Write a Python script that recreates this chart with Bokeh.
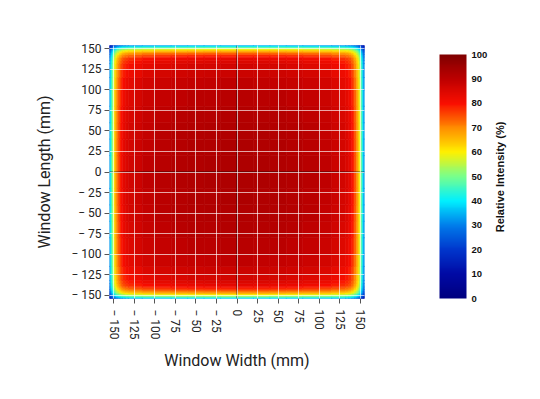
import math
from bokeh.plotting import figure
from bokeh.layouts import row
from bokeh.models import (ColumnDataSource, LinearColorMapper, ColorBar, FixedTicker, Span)
from bokeh.transform import transform
from bokeh.embed import file_html
from bokeh.resources import INLINE

# ---- data ----
# intensity profile from centre to edge (mm boundaries, relative factor per band)
profile_bounds = [0, 20, 40, 60, 80, 100, 115, 125, 132, 136, 139, 141, 143, 145,
                  147, 148.5, 150, 151.5, 152.8, 154, 156]
profile_values = [0.962, 0.960, 0.957, 0.952, 0.943, 0.930, 0.912, 0.898, 0.883, 0.865,
                  0.840, 0.810, 0.775, 0.730, 0.680, 0.620, 0.550, 0.480, 0.410, 0.340]
axis_ticks = [-150, -125, -100, -75, -50, -25, 0, 25, 50, 75, 100, 125, 150]
axis_tick_labels = ["\u2212 150", "\u2212 125", "\u2212 100", "\u2212 75", "\u2212 50", "\u2212 25",
                    "0", "25", "50", "75", "100", "125", "150"]
cbar_ticks = [0, 10, 20, 30, 40, 50, 60, 70, 80, 90, 100]

# colour map anchors (value, rgb)
cmap_anchors = [(0, (0, 0, 128)), (10, (0, 10, 165)), (20, (0, 55, 205)), (30, (0, 125, 235)),
                (40, (0, 240, 255)), (50, (120, 255, 140)), (60, (255, 240, 0)),
                (70, (255, 140, 0)), (80, (250, 15, 0)), (90, (190, 0, 0)), (100, (128, 0, 0))]

# ---- build palette ----
palette = []
for k in range(256):
    v = k / 255 * 100
    for (v0, c0), (v1, c1) in zip(cmap_anchors[:-1], cmap_anchors[1:]):
        if v0 <= v <= v1:
            t = (v - v0) / (v1 - v0)
            c = tuple(int(round(a + (b - a) * t)) for a, b in zip(c0, c1))
            palette.append("#%02x%02x%02x" % c)
            break
mapper = LinearColorMapper(palette=palette, low=0, high=100)

# ---- full-axis bands ----
full_bounds = [-b for b in reversed(profile_bounds)] + profile_bounds[1:]
full_values = list(reversed(profile_values)) + profile_values
centers = [(a + b) / 2 for a, b in zip(full_bounds[:-1], full_bounds[1:])]
widths = [b - a for a, b in zip(full_bounds[:-1], full_bounds[1:])]

xs, ys, ws, hs, vals = [], [], [], [], []
for cx, w, vx in zip(centers, widths, full_values):
    for cy, h, vy in zip(centers, widths, full_values):
        xs.append(cx); ys.append(cy); ws.append(w); hs.append(h)
        vals.append(100 * vx * vy)
src = ColumnDataSource(dict(x=xs, y=ys, w=ws, h=hs, val=vals))

p = figure(frame_width=255, frame_height=253, x_range=(-155, 155), y_range=(-154, 154),
           output_backend="svg", toolbar_location=None,
           min_border_left=109, min_border_right=0, min_border_top=45, min_border_bottom=85)
p.outline_line_color = None

p.rect(x="x", y="y", width="w", height="h", source=src,
       fill_color=transform("val", mapper), line_color=transform("val", mapper), line_width=0.6)

for ax in (p.xaxis[0], p.yaxis[0]):
    ax.ticker = FixedTicker(ticks=axis_ticks)
    ax.major_label_overrides = {t: l for t, l in zip(axis_ticks, axis_tick_labels)}
    ax.minor_tick_line_color = None
    ax.axis_line_color = None
    ax.major_tick_in = 0
    ax.major_tick_out = 5
    ax.major_tick_line_color = "#555555"
    ax.major_label_text_font = "Roboto"
    ax.major_label_text_font_size = "12px"
    ax.major_label_text_color = "#222222"
    ax.axis_label_text_font = "Roboto"
    ax.axis_label_text_font_size = "16px"
    ax.axis_label_text_font_style = "normal"
    ax.axis_label_text_color = "#222222"

p.xaxis.axis_label = "Window Width (mm)"
p.yaxis.axis_label = "Window Length (mm)"
p.xaxis.major_label_orientation = -math.pi / 2
p.xaxis.major_label_standoff = 6
p.yaxis.major_label_standoff = 3
p.xaxis.axis_label_standoff = 8
p.yaxis.axis_label_standoff = 14

for g in (p.xgrid[0], p.ygrid[0]):
    g.ticker = FixedTicker(ticks=axis_ticks)
    g.grid_line_color = "white"
    g.grid_line_alpha = 0.65
    g.grid_line_width = 1
    g.level = "overlay"

p.add_layout(Span(location=0, dimension="height", line_color="black", line_alpha=0.6, line_width=1))
p.add_layout(Span(location=0, dimension="width", line_color="black", line_alpha=0.6, line_width=1))

cb = ColorBar(color_mapper=mapper, ticker=FixedTicker(ticks=cbar_ticks), width=27, height=244,
              major_label_text_font="Liberation Sans", major_label_text_font_style="bold",
              major_label_text_font_size="9.5px", major_label_text_color="#111111",
              major_tick_line_color=None, bar_line_color=None, label_standoff=5,
              padding=0, margin=0, location=(75, 0), background_fill_color=None)
p.add_layout(cb, "right")

# narrow companion figure carrying the colour-bar title (reads bottom-to-top)
q = figure(frame_width=4, frame_height=263, x_range=(0, 1), y_range=(-154, 154),
           output_backend="svg", toolbar_location=None, x_axis_location=None,
           min_border_left=0, min_border_right=0, min_border_top=45, min_border_bottom=75)
q.outline_line_color = None
q.grid.visible = False
q.yaxis.ticker = FixedTicker(ticks=[])
q.yaxis.axis_line_color = None
q.yaxis.major_tick_line_color = None
q.yaxis.minor_tick_line_color = None
q.yaxis.major_label_text_font_size = "0px"
q.yaxis.axis_label = "Relative Intensity (%)"
q.yaxis.axis_label_text_font = "Liberation Sans"
q.yaxis.axis_label_text_font_style = "bold"
q.yaxis.axis_label_text_font_size = "11px"
q.yaxis.axis_label_text_color = "#111111"
q.yaxis.axis_label_standoff = 0

layout = row(p, q, spacing=0)
open("out.html", "w").write(file_html(layout, INLINE))
